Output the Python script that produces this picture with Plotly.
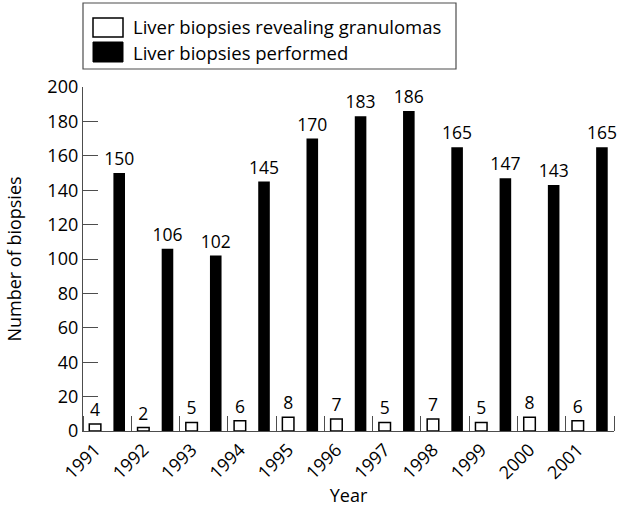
import plotly.graph_objects as go

# ---- data ----
years = [1991, 1992, 1993, 1994, 1995, 1996, 1997, 1998, 1999, 2000, 2001]
granulomas = [4, 2, 5, 6, 8, 7, 5, 7, 5, 8, 6]
performed = [150, 106, 102, 145, 170, 183, 186, 165, 147, 143, 165]
series_names = ["Liver biopsies revealing granulomas", "Liver biopsies performed"]
y_ticks = [0, 20, 40, 60, 80, 100, 120, 140, 160, 180, 200]

FONT = "'Open Sans', Lato, sans-serif"
FS = 18
W, H = 618, 507
ML, MR, MT, MB = 83, 4, 87, 76
PW, PH = W - ML - MR, H - MT - MB

def px(x):
    return (x - ML) / PW

def py(y):
    return (H - MB - y) / PH

BW = 0.24

fig = go.Figure()
fig.add_trace(go.Bar(
    x=years, y=granulomas, name=series_names[0],
    width=BW, offset=-BW / 2,
    marker=dict(color="white", line=dict(color="black", width=1.5)),
    text=granulomas, textposition="outside", constraintext="none", cliponaxis=False,
    textfont=dict(size=17.5, color="black", family=FONT),
    showlegend=False,
))
fig.add_trace(go.Bar(
    x=years, y=performed, name=series_names[1],
    width=BW, offset=0.5 - BW / 2,
    marker=dict(color="black", line=dict(color="black", width=0)),
    text=performed, textposition="outside", constraintext="none", cliponaxis=False,
    textfont=dict(size=17.5, color="black", family=FONT),
    showlegend=False,
))

sep = [y + 0.75 for y in [years[0] - 1] + years]

fig.update_layout(
    width=W, height=H,
    margin=dict(l=ML, r=MR, t=MT, b=MB, autoexpand=False),
    paper_bgcolor="white", plot_bgcolor="white",
    barmode="overlay",
    font=dict(family=FONT, size=FS, color="black"),
    xaxis=dict(
        range=[years[0] - 0.25, years[-1] + 0.75],
        tickmode="array", tickvals=years, ticktext=[str(y) for y in years],
        tickangle=-45, ticks="", showgrid=False, zeroline=False,
        showline=True, linecolor="#4d4d4d", linewidth=1.3,
        minor=dict(tickmode="array", tickvals=sep, ticks="inside", ticklen=15,
                   tickcolor="#4d4d4d", tickwidth=1.3, showgrid=False),
        title=dict(text="Year", font=dict(size=FS), standoff=6),
        tickfont=dict(size=FS),
    ),
    yaxis=dict(
        range=[0, 200], tickmode="array", tickvals=y_ticks,
        ticks="inside", ticklen=15, tickcolor="#4d4d4d", tickwidth=1.3,
        showline=True, linecolor="#4d4d4d", linewidth=1.3,
        showgrid=False, zeroline=False,
        title=dict(text="Number of biopsies", font=dict(size=FS), standoff=21),
        tickfont=dict(size=FS),
    ),
)

# manual legend
shapes = [
    dict(type="rect", xref="paper", yref="paper", x0=px(83), x1=px(456), y0=py(69), y1=py(3),
         line=dict(color="#4d4d4d", width=1.2), fillcolor="white"),
    dict(type="rect", xref="paper", yref="paper", x0=px(93), x1=px(123), y0=py(37), y1=py(18),
         line=dict(color="black", width=1.5), fillcolor="white"),
    dict(type="rect", xref="paper", yref="paper", x0=px(93), x1=px(123), y0=py(62), y1=py(42),
         line=dict(color="black", width=1), fillcolor="black"),
]
fig.update_layout(shapes=shapes)
for name, yc in zip(series_names, [27, 52]):
    fig.add_annotation(xref="paper", yref="paper", x=px(131), y=py(yc), text=name,
                       showarrow=False, xanchor="left", yanchor="middle",
                       font=dict(size=18.5, color="black", family=FONT))

fig.write_html("out.html", config={"displayModeBar": False},
               post_script="document.body.style.margin='0';")
